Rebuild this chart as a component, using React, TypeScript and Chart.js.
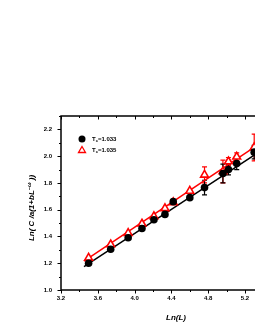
import React, { useEffect, useRef } from "react";
import { Chart, registerables } from "chart.js";

Chart.register(...registerables);

// ---- data ----
const lnL = [3.5, 3.74, 3.93, 4.08, 4.21, 4.33, 4.42, 4.6, 4.76, 4.96, 5.02, 5.11, 5.3];
const blackY = [1.2, 1.305, 1.39, 1.46, 1.525, 1.565, 1.66, 1.69, 1.765, 1.87, 1.9, 1.945, 2.03];
const blackErr = [0, 0, 0, 0, 0, 0, 0, 0, 0.055, 0.07, 0.04, 0.045, 0.05];
const redY = [1.24, 1.34, 1.425, 1.495, 1.55, 1.61, 1.655, 1.74, 1.86, 1.885, 1.96, 1.995, 2.065];
const redErr = [0, 0, 0, 0, 0, 0, 0, 0, 0.06, 0.085, 0.03, 0.03, 0.1];
const fitX = [3.45, 5.4];
const blackFit = [1.175, 2.0525];
const redFit = [1.215, 2.112];
const seriesNames = ["1.033", "1.035"];
const xTickValues = [3.2, 3.6, 4.0, 4.4, 4.8, 5.2, 5.6];
const yTickValues = [1.0, 1.2, 1.4, 1.6, 1.8, 2.0, 2.2];

const FONT = "'Liberation Sans', Arial, sans-serif";

function App() {
  const ref = useRef<HTMLCanvasElement | null>(null);

  useEffect(() => {
    const canvas = ref.current;
    if (!canvas) return;

    const decorPlugin = {
      id: "decor",
      beforeDatasetsDraw(chart: any) {
        const ctx = chart.ctx;
        const xs = chart.scales.x;
        const ys = chart.scales.y;
        const draw = (vals: number[], errs: number[], color: string) => {
          ctx.save();
          ctx.strokeStyle = color;
          ctx.lineWidth = 1.2;
          vals.forEach((v, i) => {
            const e = errs[i];
            if (!e) return;
            const px = xs.getPixelForValue(lnL[i]);
            const y1 = ys.getPixelForValue(v + e);
            const y2 = ys.getPixelForValue(v - e);
            ctx.beginPath();
            ctx.moveTo(px, y1);
            ctx.lineTo(px, y2);
            ctx.moveTo(px - 2.5, y1);
            ctx.lineTo(px + 2.5, y1);
            ctx.moveTo(px - 2.5, y2);
            ctx.lineTo(px + 2.5, y2);
            ctx.stroke();
          });
          ctx.restore();
        };
        draw(redY, redErr, "#ff0000");
        draw(blackY, blackErr, "#000000");
      },
      afterDraw(chart: any) {
        const ctx = chart.ctx;
        const a = chart.chartArea;
        const xs = chart.scales.x;
        const ys = chart.scales.y;
        ctx.save();
        // frame
        ctx.strokeStyle = "#000";
        ctx.lineWidth = 1.5;
        ctx.strokeRect(a.left, a.top, a.right - a.left, a.bottom - a.top);
        // ticks
        ctx.lineWidth = 1;
        ctx.beginPath();
        for (let v = 3.2; v <= 5.71; v += 0.2) {
          const px = Math.round(xs.getPixelForValue(v)) + 0.5;
          const major = Math.abs((v - 3.2) / 0.4 - Math.round((v - 3.2) / 0.4)) < 0.01;
          const len = major ? 3.5 : 2;
          ctx.moveTo(px, a.bottom);
          ctx.lineTo(px, a.bottom + len);
          ctx.moveTo(px, a.top);
          ctx.lineTo(px, a.top + len);
        }
        for (let v = 1.0; v <= 2.31; v += 0.1) {
          const py = Math.round(ys.getPixelForValue(v)) + 0.5;
          const major = Math.abs((v - 1.0) / 0.2 - Math.round((v - 1.0) / 0.2)) < 0.01;
          const len = major ? 3.5 : 2;
          ctx.moveTo(a.left, py);
          ctx.lineTo(a.left - len, py);
        }
        ctx.stroke();

        // legend
        const lx = a.left + 21;
        const ly1 = a.top + 23;
        const ly2 = a.top + 34;
        ctx.fillStyle = "#000";
        ctx.beginPath();
        ctx.arc(lx, ly1, 3.5, 0, Math.PI * 2);
        ctx.fill();
        ctx.strokeStyle = "#ff0000";
        ctx.lineWidth = 1.3;
        ctx.beginPath();
        ctx.moveTo(lx, ly2 - 3.5);
        ctx.lineTo(lx + 3.5, ly2 + 2.5);
        ctx.lineTo(lx - 3.5, ly2 + 2.5);
        ctx.closePath();
        ctx.stroke();
        const drawLabel = (y: number, val: string) => {
          let x = lx + 10;
          ctx.fillStyle = "#000";
          ctx.textBaseline = "middle";
          ctx.textAlign = "left";
          ctx.font = `bold 6px ${FONT}`;
          ctx.fillText("T", x, y);
          x += ctx.measureText("T").width;
          ctx.font = `bold 4px ${FONT}`;
          ctx.fillText("c", x, y + 2);
          x += ctx.measureText("c").width;
          ctx.font = `bold 6px ${FONT}`;
          ctx.fillText("=" + val, x, y);
        };
        drawLabel(ly1, seriesNames[0]);
        drawLabel(ly2, seriesNames[1]);

        // x title
        ctx.font = `italic bold 8px ${FONT}`;
        ctx.textAlign = "center";
        ctx.textBaseline = "middle";
        ctx.fillStyle = "#000";
        ctx.fillText("Ln(L)", (a.left + a.right) / 2, 318);

        // y title
        ctx.save();
        ctx.translate(32, (a.top + a.bottom) / 2 + 5);
        ctx.rotate(-Math.PI / 2);
        const segs: { t: string; sup?: boolean }[] = [
          { t: "Ln( C /a(1+bL" },
          { t: "\u2212\u03c9", sup: true },
          { t: " ))" },
        ];
        const big = `italic bold 8px ${FONT}`;
        const small = `italic bold 5.5px ${FONT}`;
        let total = 0;
        segs.forEach((s) => {
          ctx.font = s.sup ? small : big;
          total += ctx.measureText(s.t).width;
        });
        let x = -total / 2;
        ctx.textAlign = "left";
        segs.forEach((s) => {
          ctx.font = s.sup ? small : big;
          ctx.fillText(s.t, x, s.sup ? -3 : 0);
          x += ctx.measureText(s.t).width;
        });
        ctx.restore();
        ctx.restore();
      },
    };

    const chart = new Chart(canvas, {
      type: "scatter",
      data: {
        datasets: [
          {
            label: "fitBlack",
            data: fitX.map((x, i) => ({ x, y: blackFit[i] })),
            showLine: true,
            borderColor: "#000",
            borderWidth: 1.5,
            pointRadius: 0,
            order: 3,
          },
          {
            label: "fitRed",
            data: fitX.map((x, i) => ({ x, y: redFit[i] })),
            showLine: true,
            borderColor: "#ff0000",
            borderWidth: 1.5,
            pointRadius: 0,
            order: 4,
          },
          {
            label: "T=" + seriesNames[1],
            data: lnL.map((x, i) => ({ x, y: redY[i] })),
            pointStyle: "triangle",
            pointRadius: 4.5,
            borderColor: "#ff0000",
            backgroundColor: "#ffffff",
            borderWidth: 1.6,
            order: 2,
          },
          {
            label: "T=" + seriesNames[0],
            data: lnL.map((x, i) => ({ x, y: blackY[i] })),
            pointStyle: "circle",
            pointRadius: 3.8,
            borderColor: "#000",
            backgroundColor: "#000",
            borderWidth: 0,
            order: 1,
          },
        ],
      },
      options: {
        animation: false,
        responsive: false,
        events: [],
        layout: { padding: { left: 0, top: 116, right: 29, bottom: 0 } },
        plugins: { legend: { display: false }, tooltip: { enabled: false } },
        scales: {
          x: {
            type: "linear",
            min: 3.2,
            max: 5.7,
            afterFit: (s: any) => {
              s.height = 40;
            },
            afterBuildTicks: (s: any) => {
              s.ticks = xTickValues.map((v) => ({ value: v }));
            },
            grid: { display: false, drawTicks: true, tickLength: 3 },
            border: { display: false },
            ticks: {
              padding: 2,
              color: "#000",
              font: { family: FONT, size: 6, weight: "bold" },
              maxRotation: 0,
              callback: (v: any) => Number(v).toFixed(1),
            },
          },
          y: {
            type: "linear",
            min: 1.0,
            max: 2.3,
            afterFit: (s: any) => {
              s.width = 61;
            },
            afterBuildTicks: (s: any) => {
              s.ticks = yTickValues.map((v) => ({ value: v }));
            },
            grid: { display: false, drawTicks: true, tickLength: 4 },
            border: { display: false },
            ticks: {
              padding: 5,
              color: "#000",
              font: { family: FONT, size: 6, weight: "bold" },
              callback: (v: any) => Number(v).toFixed(1),
            },
          },
        },
      },
      plugins: [decorPlugin],
    } as any);

    return () => chart.destroy();
  }, []);

  return (
    <div
      style={{
        position: "fixed",
        left: 0,
        top: 0,
        width: 255,
        height: 330,
        overflow: "hidden",
        background: "#fff",
      }}
    >
      <canvas ref={ref} width={320} height={330} style={{ display: "block" }} />
    </div>
  );
}

export default App;
